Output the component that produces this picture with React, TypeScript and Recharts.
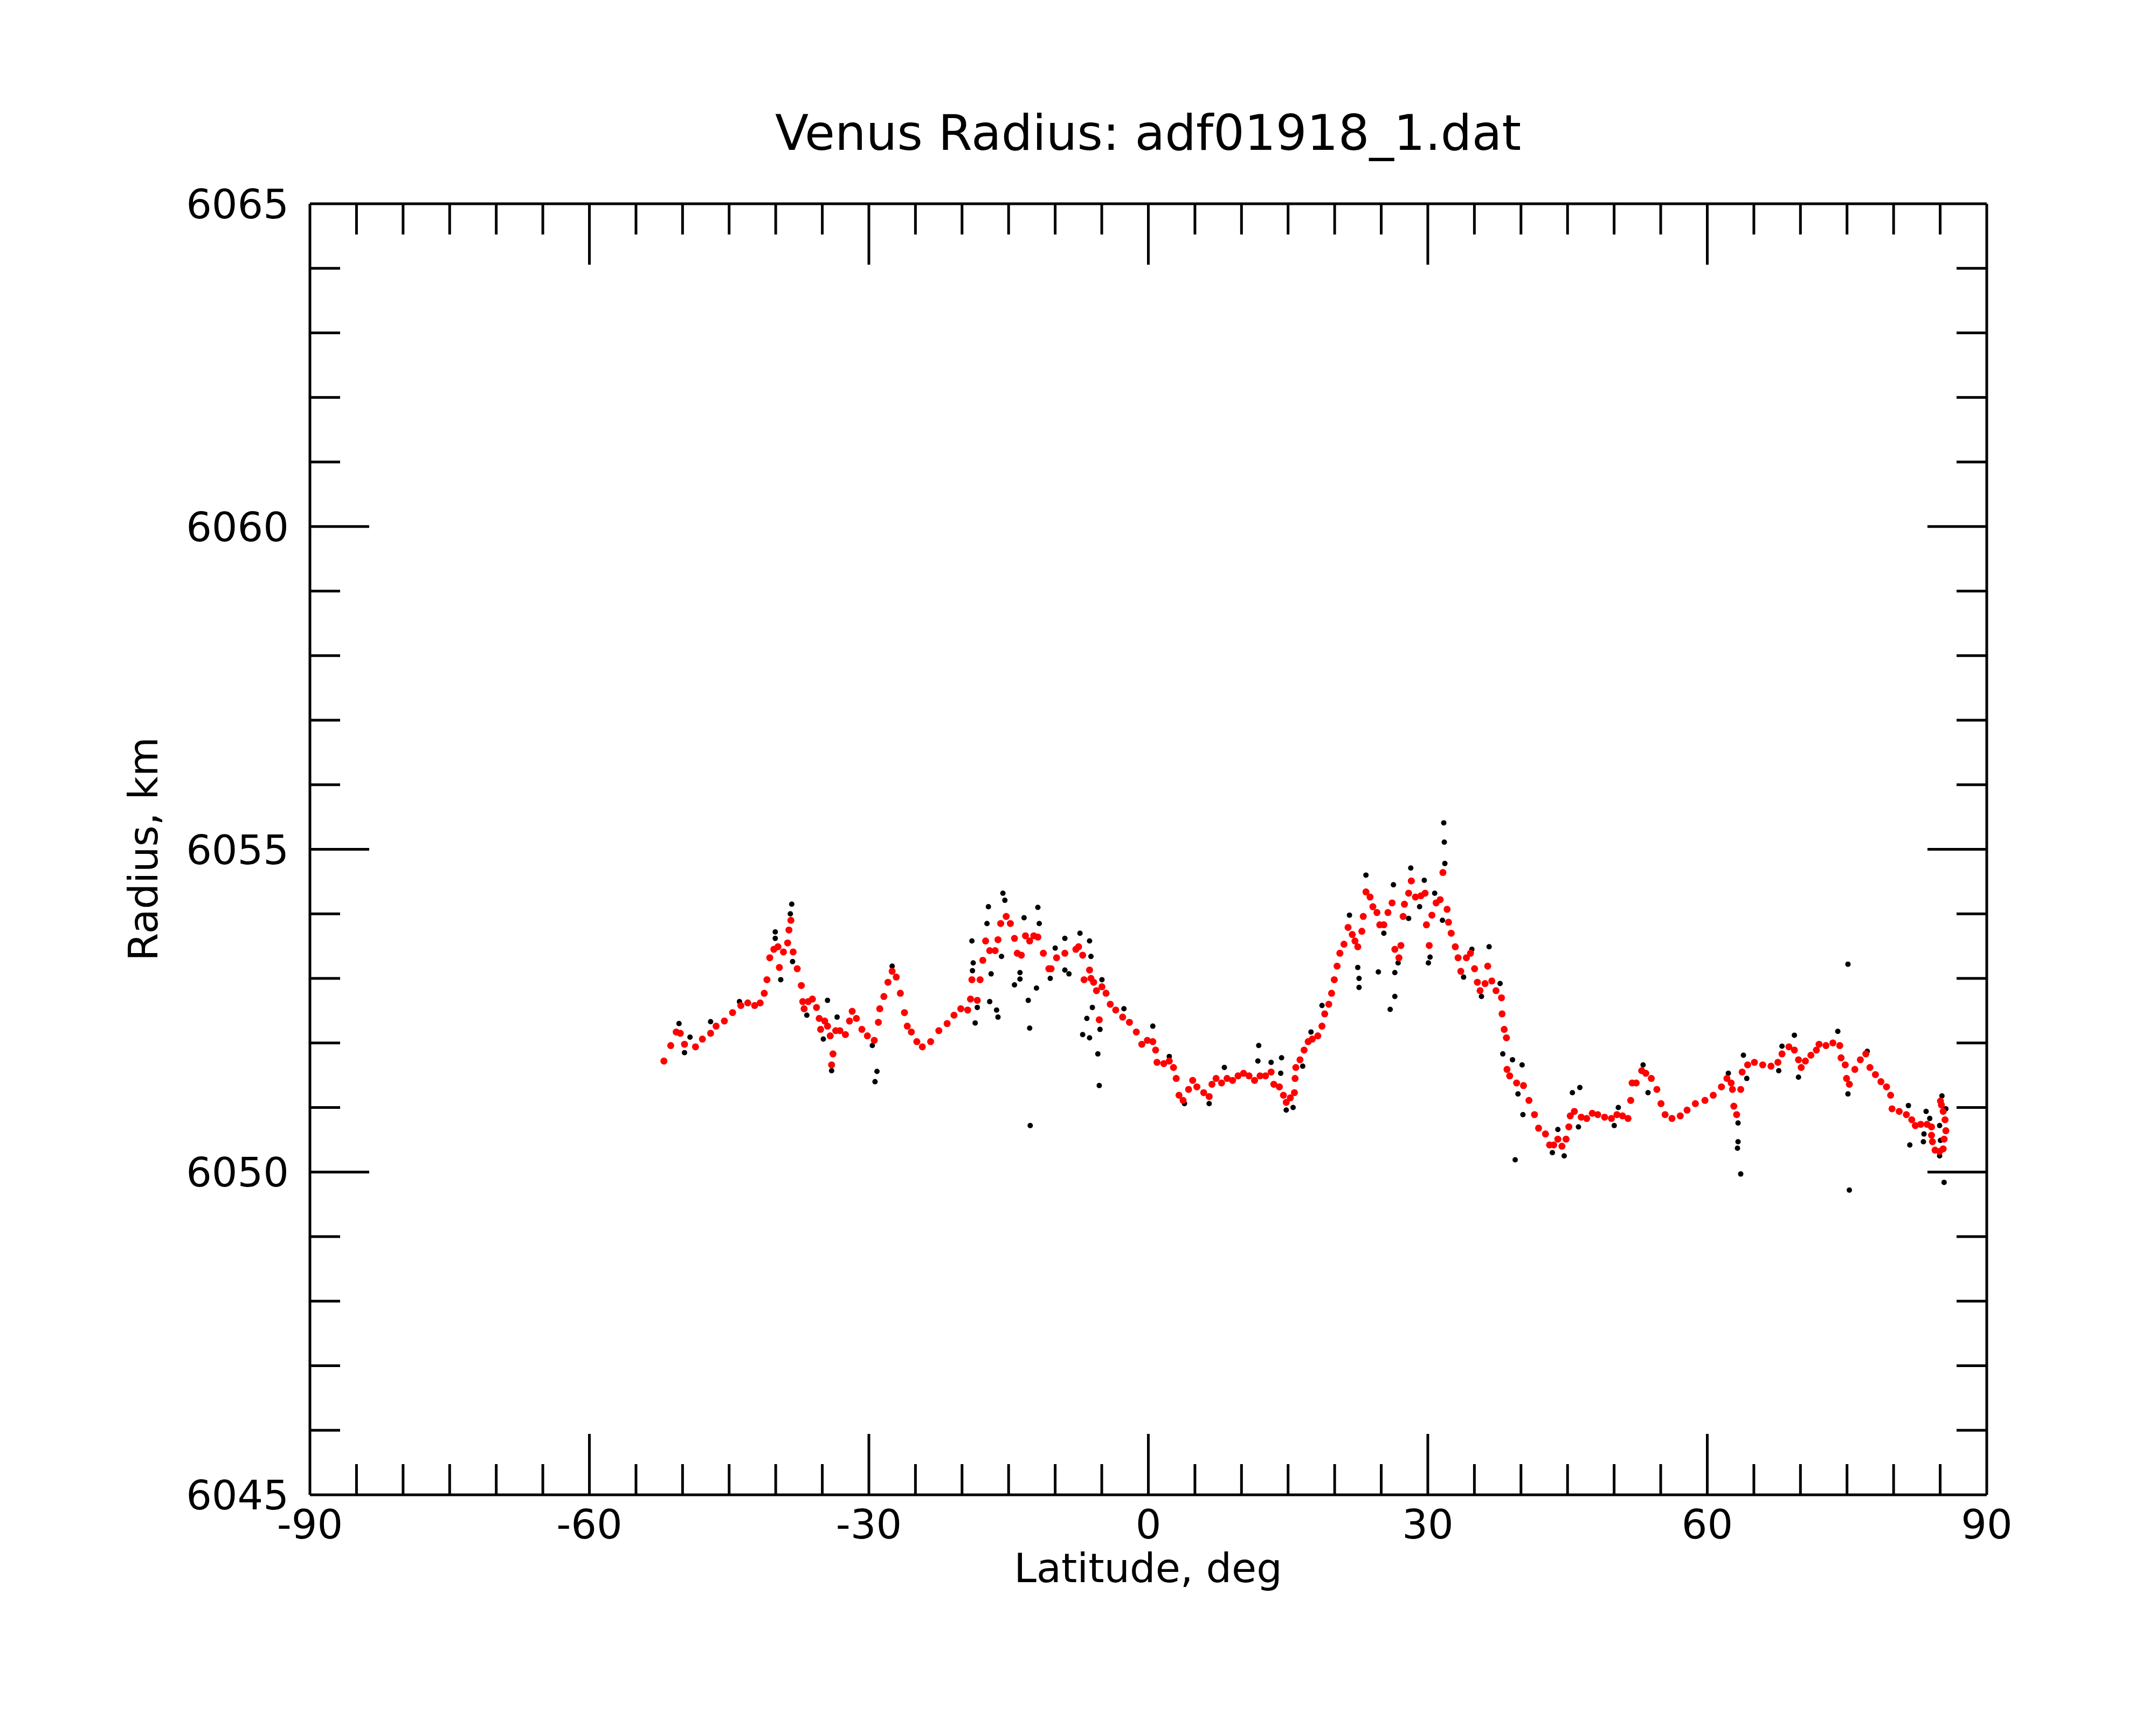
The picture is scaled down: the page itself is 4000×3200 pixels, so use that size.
import React from 'react';
import { ScatterChart, Scatter, XAxis, YAxis } from 'recharts';

// [latitude deg, radius km]
const smoothSouth: [number, number][] = [
  [-52.0, 6051.72], [-51.27, 6051.96], [-50.68, 6052.17], [-50.24, 6052.15], [-49.79, 6051.98],
  [-48.61, 6051.94], [-47.87, 6052.06], [-46.99, 6052.15], [-46.4, 6052.26], [-45.51, 6052.34],
  [-44.63, 6052.47], [-43.74, 6052.58], [-43.0, 6052.62], [-42.26, 6052.58], [-41.67, 6052.62],
  [-41.23, 6052.77], [-40.94, 6052.98], [-40.64, 6053.32], [-40.2, 6053.45], [-39.76, 6053.49],
  [-39.61, 6053.17], [-39.17, 6053.41], [-38.72, 6053.55], [-38.58, 6053.75], [-38.37, 6053.9],
  [-38.13, 6053.41], [-37.69, 6053.15], [-37.25, 6052.89], [-37.1, 6052.64], [-36.95, 6052.53],
  [-36.51, 6052.64], [-36.06, 6052.68], [-35.62, 6052.55], [-35.33, 6052.38], [-35.18, 6052.21],
  [-34.74, 6052.34], [-34.44, 6052.26], [-34.15, 6052.11], [-33.85, 6051.83], [-34.0, 6051.66],
  [-33.56, 6052.19], [-33.11, 6052.19], [-32.52, 6052.13], [-32.08, 6052.34], [-31.79, 6052.49],
  [-31.34, 6052.38], [-30.75, 6052.21], [-30.16, 6052.11], [-29.42, 6052.04], [-28.98, 6052.32],
  [-28.83, 6052.53], [-28.39, 6052.72], [-27.95, 6052.94], [-27.5, 6053.11], [-27.06, 6053.02],
  [-26.62, 6052.77], [-26.18, 6052.47], [-25.88, 6052.26], [-25.44, 6052.17], [-24.85, 6052.02],
  [-24.26, 6051.94], [-23.37, 6052.02], [-22.49, 6052.19], [-21.6, 6052.3], [-20.86, 6052.43],
  [-20.13, 6052.53], [-19.39, 6052.51], [-19.09, 6052.68], [-18.94, 6052.98], [-18.36, 6052.66],
  [-18.06, 6052.98], [-17.77, 6053.28], [-17.47, 6053.58], [-17.03, 6053.43], [-16.44, 6053.43],
  [-16.14, 6053.6], [-15.85, 6053.85], [-15.26, 6053.96], [-14.81, 6053.85], [-14.37, 6053.62],
  [-14.07, 6053.39], [-13.63, 6053.36], [-13.19, 6053.66], [-12.74, 6053.58], [-12.3, 6053.66],
  [-11.86, 6053.64], [-11.27, 6053.39], [-10.68, 6053.15],
];

const smoothEquator: [number, number][] = [
  [-10.44, 6053.15], [-9.85, 6053.32], [-8.96, 6053.39], [-7.78, 6053.45], [-7.49, 6053.49],
  [-7.05, 6053.36], [-6.9, 6052.98], [-6.31, 6053.13], [-6.16, 6053.0], [-5.87, 6052.94],
  [-5.57, 6052.81], [-5.27, 6052.36], [-4.98, 6052.87], [-4.54, 6052.77], [-4.09, 6052.6],
  [-3.5, 6052.51], [-2.76, 6052.4], [-2.03, 6052.32], [-1.29, 6052.17], [-0.7, 6051.98],
  [-0.11, 6052.04], [0.48, 6052.02], [0.78, 6051.89], [0.93, 6051.7], [1.66, 6051.68],
  [2.25, 6051.72], [2.7, 6051.62], [2.99, 6051.45], [3.29, 6051.19], [3.73, 6051.11],
  [4.32, 6051.28], [4.76, 6051.42], [5.21, 6051.32], [5.94, 6051.23], [6.53, 6051.17],
  [6.83, 6051.36], [7.27, 6051.45], [7.86, 6051.38], [8.45, 6051.45], [9.04, 6051.42],
  [9.63, 6051.49], [10.22, 6051.53], [10.81, 6051.49], [11.4, 6051.42], [11.99, 6051.49],
  [12.58, 6051.49], [13.18, 6051.55], [13.47, 6051.36], [14.06, 6051.32], [14.5, 6051.19],
  [14.8, 6051.08], [15.24, 6051.15], [15.68, 6051.23], [15.75, 6051.45], [15.83, 6051.62],
  [16.28, 6051.74], [16.72, 6051.89], [17.16, 6052.02], [17.6, 6052.06], [18.19, 6052.11],
  [18.64, 6052.26], [18.93, 6052.45], [19.37, 6052.6], [19.67, 6052.77], [19.96, 6052.98],
  [20.26, 6053.19], [20.56, 6053.39], [21.0, 6053.53], [21.44, 6053.79], [21.89, 6053.68],
  [22.18, 6053.58], [22.48, 6053.49], [22.92, 6053.73], [23.07, 6053.96], [23.36, 6054.34],
  [23.8, 6054.26], [24.1, 6054.11], [24.54, 6054.02], [24.84, 6053.83], [25.28, 6053.83],
  [25.72, 6054.02], [26.16, 6054.17], [26.46, 6053.45], [26.9, 6053.32], [27.11, 6053.51],
  [27.35, 6053.96], [27.49, 6054.15], [27.94, 6054.32], [28.23, 6054.51], [28.67, 6054.26],
  [29.26, 6054.28], [29.71, 6054.32], [29.85, 6053.83], [30.15, 6053.51], [30.44, 6053.98],
  [30.89, 6054.17], [31.33, 6054.22], [31.62, 6054.64], [32.07, 6054.07], [32.22, 6053.87],
  [32.51, 6053.7], [32.95, 6053.49], [33.25, 6053.32], [33.54, 6053.11], [34.14, 6053.32],
  [34.58, 6053.39], [35.02, 6053.15], [35.32, 6052.94], [35.61, 6052.81],
];

const smoothNorth: [number, number][] = [
  [36.14, 6052.92], [36.43, 6053.19], [36.87, 6052.96], [37.32, 6052.81], [37.91, 6052.7],
  [37.97, 6052.45], [38.2, 6052.21], [38.44, 6052.08], [38.5, 6051.59], [38.79, 6051.49],
  [39.53, 6051.38], [40.27, 6051.34], [40.86, 6051.11], [41.45, 6050.89], [41.89, 6050.68],
  [42.63, 6050.59], [43.07, 6050.42], [43.52, 6050.42], [43.96, 6050.51], [44.4, 6050.4],
  [44.84, 6050.51], [45.14, 6050.7], [45.29, 6050.87], [45.73, 6050.94], [46.47, 6050.85],
  [47.06, 6050.83], [47.65, 6050.91], [48.24, 6050.89], [48.98, 6050.85], [49.71, 6050.83],
  [50.3, 6050.89], [50.9, 6050.87], [51.49, 6050.83], [51.78, 6051.11], [51.93, 6051.38],
  [52.37, 6051.38], [52.96, 6051.57], [53.4, 6051.53], [53.99, 6051.45], [54.59, 6051.28],
  [55.03, 6051.06], [55.47, 6050.89], [56.21, 6050.83], [57.1, 6050.87], [57.83, 6050.96],
  [58.72, 6051.06], [59.75, 6051.11], [60.64, 6051.19], [61.52, 6051.32], [62.11, 6051.45],
  [62.56, 6051.38], [62.7, 6051.28], [62.85, 6051.02], [63.15, 6050.89], [63.59, 6051.28],
  [63.74, 6051.55], [64.33, 6051.66], [65.06, 6051.7], [65.95, 6051.66], [66.84, 6051.64],
  [67.58, 6051.7], [68.02, 6051.83], [68.76, 6051.94], [69.35, 6051.89], [69.79, 6051.74],
  [70.08, 6051.62], [70.53, 6051.72], [71.12, 6051.81], [71.71, 6051.89], [72.0, 6051.98],
  [72.74, 6051.96], [73.48, 6052.0], [74.22, 6051.96], [74.36, 6051.77], [74.81, 6051.66],
  [74.95, 6051.45], [75.25, 6051.36], [75.84, 6051.59], [76.43, 6051.74], [77.02, 6051.83],
  [77.46, 6051.62], [78.05, 6051.51], [78.64, 6051.4], [79.24, 6051.32], [79.68, 6051.19],
  [79.83, 6050.98], [80.6, 6050.94], [81.37, 6050.89], [81.95, 6050.81], [82.33, 6050.72],
  [82.91, 6050.74], [83.59, 6050.74], [84.07, 6050.7], [84.07, 6050.57], [84.17, 6050.47],
  [84.45, 6050.34], [84.94, 6050.32], [85.32, 6050.36], [85.42, 6050.51], [85.61, 6050.64],
  [85.52, 6050.81], [85.32, 6050.94], [85.13, 6051.04], [85.03, 6051.1],
];

// raw points that stray from the smoothed track
const strayPoints: [number, number][] = [
  [-50.38, 6052.3], [-49.2, 6052.09], [-49.79, 6051.85], [-46.99, 6052.33], [-43.89, 6052.64],
  [-40.05, 6053.72], [-40.05, 6053.62], [-39.46, 6052.98], [-38.28, 6054.15], [-38.43, 6054.0],
  [-38.19, 6053.26], [-36.66, 6052.43], [-34.89, 6052.06], [-34.44, 6052.66], [-33.41, 6052.4],
  [-34.0, 6051.57], [-29.63, 6051.96], [-29.13, 6051.56], [-29.34, 6051.4], [-27.5, 6053.19],
  [-18.94, 6053.58], [-18.8, 6053.24], [-18.88, 6053.12], [-18.59, 6052.31], [-18.36, 6052.55],
  [-17.17, 6054.11], [-17.32, 6053.85], [-17.03, 6052.64], [-16.29, 6052.51], [-16.14, 6052.4],
  [-15.76, 6053.34], [-16.88, 6053.07], [-15.61, 6054.32], [-15.4, 6054.21], [-14.37, 6052.9],
  [-13.78, 6052.99], [-13.78, 6053.09], [-12.89, 6052.66], [-12.74, 6052.23], [-12.01, 6052.85],
  [-12.68, 6050.72], [-13.34, 6053.94], [-11.86, 6054.1], [-11.71, 6053.85], [-10.53, 6053.0],
  [-7.34, 6053.7], [-8.96, 6053.62], [-10.0, 6053.47], [-8.96, 6053.13], [-8.52, 6053.07],
  [-6.31, 6053.58], [-6.16, 6053.34], [-6.01, 6052.55], [-6.6, 6052.38], [-7.05, 6052.13],
  [-6.31, 6052.08], [-5.42, 6051.83], [-5.27, 6051.34], [-5.19, 6052.21], [-4.98, 6052.98],
  [-2.62, 6052.53], [0.48, 6052.26], [2.25, 6051.79], [3.88, 6051.06], [6.53, 6051.06],
  [8.16, 6051.62], [11.85, 6051.96], [11.76, 6051.72], [13.18, 6051.7], [14.3, 6051.77],
  [14.21, 6051.53], [14.8, 6050.96], [15.54, 6051.0], [16.57, 6051.64], [17.46, 6052.17],
  [18.64, 6052.58], [21.59, 6053.98], [22.48, 6053.17], [22.62, 6053.0], [22.62, 6052.86],
  [23.36, 6054.6], [24.69, 6053.1], [25.28, 6053.7], [26.31, 6054.45], [26.46, 6053.09],
  [26.46, 6052.72], [25.96, 6052.52], [26.81, 6053.24], [27.94, 6053.93], [28.17, 6054.71],
  [29.12, 6054.11], [29.62, 6054.52], [30.06, 6053.24], [30.24, 6053.33], [30.74, 6054.32],
  [31.57, 6053.9], [31.71, 6055.41], [31.77, 6055.11], [31.83, 6054.78], [33.84, 6053.02],
  [34.73, 6053.45], [35.76, 6052.72], [36.58, 6053.49], [37.76, 6052.92], [38.05, 6051.83],
  [39.09, 6051.74], [40.12, 6051.66], [39.68, 6051.21], [40.21, 6050.89], [39.38, 6050.19],
  [43.96, 6050.66], [43.37, 6050.3], [44.64, 6050.25], [45.52, 6051.23], [46.32, 6051.31],
  [46.17, 6050.7], [50.01, 6050.72], [50.45, 6051.0], [53.11, 6051.66], [53.64, 6051.23],
  [62.26, 6051.53], [63.3, 6050.76], [63.3, 6050.47], [63.24, 6050.37], [63.59, 6049.97],
  [63.88, 6051.81], [64.24, 6051.45], [67.67, 6051.57], [68.02, 6051.95], [69.35, 6052.12],
  [69.79, 6051.47], [74.01, 6052.18], [75.1, 6053.22], [75.1, 6051.21], [75.25, 6049.72],
  [77.17, 6051.87], [81.74, 6050.42], [81.59, 6051.03], [83.49, 6050.94], [83.26, 6050.59],
  [83.2, 6050.47], [83.88, 6050.83], [85.19, 6051.18], [85.61, 6050.98], [84.94, 6050.72],
  [85.03, 6050.49], [84.94, 6050.25], [85.42, 6049.84],
];

const latTicks = [-90, -85, -80, -75, -70, -65, -60, -55, -50, -45, -40, -35, -30, -25, -20, -15, -10, -5,
  0, 5, 10, 15, 20, 25, 30, 35, 40, 45, 50, 55, 60, 65, 70, 75, 80, 85, 90];
const radiusTicks = [6045, 6046, 6047, 6048, 6049, 6050, 6051, 6052, 6053, 6054, 6055,
  6056, 6057, 6058, 6059, 6060, 6061, 6062, 6063, 6064, 6065];

const toPoints = (rows: [number, number][]) => rows.map(([lat, r]) => ({ lat, r }));
const smoothed = toPoints([...smoothSouth, ...smoothEquator, ...smoothNorth]);
const raw = [...smoothed, ...toPoints(strayPoints)];

const FONT = 'DejaVu Sans';
const INK = '#000';

const BottomTick = (p: any) => {
  const v = p.payload.value;
  const major = v % 30 === 0;
  return (
    <g>
      {v > -90 && v < 90 && (
        <line x1={p.x} x2={p.x} y1={p.y} y2={p.y - (major ? 113 : 57)} stroke={INK} strokeWidth={5} />
      )}
      {major && (
        <text x={p.x} y={p.y + 81} textAnchor="middle" fontSize={75} fontFamily={FONT} fill={INK}>{v}</text>
      )}
    </g>
  );
};

const TopTick = (p: any) => {
  const v = p.payload.value;
  if (v <= -90 || v >= 90) return <g />;
  const major = v % 30 === 0;
  return <line x1={p.x} x2={p.x} y1={p.y} y2={p.y + (major ? 113 : 57)} stroke={INK} strokeWidth={5} />;
};

const LeftTick = (p: any) => {
  const v = p.payload.value;
  const major = v % 5 === 0;
  return (
    <g>
      {v > 6045 && v < 6065 && (
        <line x1={p.x} x2={p.x + (major ? 110 : 56)} y1={p.y} y2={p.y} stroke={INK} strokeWidth={5} />
      )}
      {major && (
        <text x={p.x - 39} y={p.y + 27} textAnchor="end" fontSize={75} fontFamily={FONT} fill={INK}>{v}</text>
      )}
    </g>
  );
};

const RightTick = (p: any) => {
  const v = p.payload.value;
  if (v <= 6045 || v >= 6065) return <g />;
  const major = v % 5 === 0;
  return <line x1={p.x} x2={p.x - (major ? 110 : 56)} y1={p.y} y2={p.y} stroke={INK} strokeWidth={5} />;
};

const dot = (color: string, r: number) => (p: any) => <circle cx={p.cx} cy={p.cy} r={r} fill={color} />;

export default function App() {
  const axisLine = { stroke: INK, strokeWidth: 5 };
  return (
    <div style={{ position: 'absolute', left: 0, top: 0, width: 4000, height: 3200, background: '#fff' }}>
      <ScatterChart width={4000} height={3200} margin={{ top: 0, right: 0, bottom: 0, left: 0 }}>
        <XAxis xAxisId={0} type="number" dataKey="lat" domain={[-90, 90]} ticks={latTicks} interval={0}
          allowDataOverflow height={427} tickSize={0} tickMargin={0} tickLine={false}
          axisLine={axisLine} tick={BottomTick} />
        <XAxis xAxisId="top" orientation="top" type="number" dataKey="lat" domain={[-90, 90]} ticks={latTicks}
          interval={0} allowDataOverflow height={378} tickSize={0} tickMargin={0} tickLine={false}
          axisLine={axisLine} tick={TopTick} />
        <YAxis yAxisId={0} type="number" dataKey="r" domain={[6045, 6065]} ticks={radiusTicks} interval={0}
          allowDataOverflow width={575} tickSize={0} tickMargin={0} tickLine={false}
          axisLine={axisLine} tick={LeftTick} />
        <YAxis yAxisId="right" orientation="right" type="number" dataKey="r" domain={[6045, 6065]}
          ticks={radiusTicks} interval={0} allowDataOverflow width={314} tickSize={0} tickMargin={0}
          tickLine={false} axisLine={axisLine} tick={RightTick} />
        <Scatter data={raw} xAxisId={0} yAxisId={0} shape={dot('#000', 5)} isAnimationActive={false} />
        <Scatter data={smoothed} xAxisId={0} yAxisId={0} shape={dot('#ff0000', 6.5)} isAnimationActive={false} />
        <text x={2130} y={278} textAnchor="middle" fontSize={91} fontFamily={FONT} fill={INK}>
          Venus Radius: adf01918_1.dat
        </text>
        <text x={2130} y={2935} textAnchor="middle" fontSize={75} fontFamily={FONT} fill={INK}>
          Latitude, deg
        </text>
        <text x={292} y={1575} transform="rotate(-90 292 1575)" textAnchor="middle" fontSize={75}
          fontFamily={FONT} fill={INK}>
          Radius, km
        </text>
      </ScatterChart>
    </div>
  );
}
